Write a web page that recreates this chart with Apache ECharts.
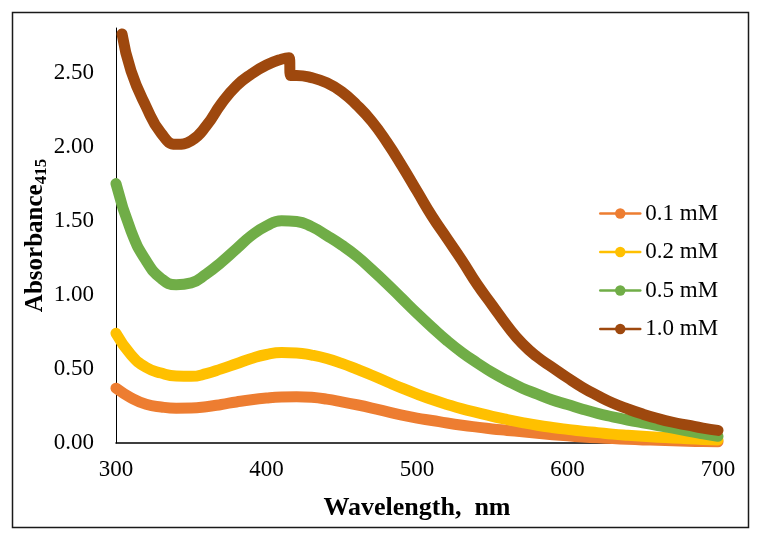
<!DOCTYPE html>
<html>
<head>
<meta charset="utf-8">
<script src="https://cdn.jsdelivr.net/npm/echarts@6/dist/echarts.min.js"></script>
<style>
	html, body { margin: 0; padding: 0; background: #fff; }
	#chart { width: 763px; height: 542px; }
</style>
</head>
<body>
<div id="chart"></div>
<script>
// legend names
var seriesNames = ['0.1 mM', '0.2 mM', '0.5 mM', '1.0 mM'];
var seriesColors = ['#ED7D31', '#FFC000', '#70AD47', '#9E480E'];

// wavelengths (nm) shared by the three lower curves
var wl = [300, 310, 320, 330, 340, 350, 360, 370, 380, 390, 400, 410, 420, 430, 440, 450, 460, 470, 480, 490,
	500, 510, 520, 530, 540, 550, 560, 570, 580, 590, 600, 610, 620, 630, 640, 650, 660, 670, 680, 690, 700];
var abs01 = [0.37, 0.305, 0.262, 0.243, 0.235, 0.236, 0.245, 0.26, 0.277, 0.292, 0.303, 0.31, 0.312, 0.308, 0.296, 0.278, 0.258, 0.236, 0.212, 0.188,
	0.168, 0.152, 0.135, 0.12, 0.107, 0.095, 0.085, 0.075, 0.065, 0.056, 0.048, 0.041, 0.035, 0.03, 0.025, 0.021, 0.018, 0.015, 0.012, 0.01, 0.008];
var abs02 = [0.74, 0.595, 0.51, 0.472, 0.452, 0.45, 0.468, 0.5, 0.535, 0.57, 0.597, 0.61, 0.608, 0.593, 0.57, 0.537, 0.498, 0.457, 0.413, 0.37,
	0.33, 0.293, 0.26, 0.23, 0.205, 0.18, 0.158, 0.138, 0.12, 0.105, 0.092, 0.08, 0.07, 0.06, 0.052, 0.045, 0.039, 0.034, 0.029, 0.024, 0.02];
var abs05 = [1.75, 1.43, 1.23, 1.11, 1.068, 1.08, 1.14, 1.22, 1.31, 1.40, 1.465, 1.50, 1.495, 1.46, 1.40, 1.335, 1.26, 1.17, 1.075, 0.975,
	0.875, 0.78, 0.69, 0.61, 0.54, 0.475, 0.42, 0.37, 0.33, 0.29, 0.26, 0.228, 0.20, 0.177, 0.155, 0.136, 0.118, 0.10, 0.08, 0.062, 0.045];

// 1.0 mM has its own wavelengths (step near 415 nm)
var wl10 = [304, 310, 320, 330, 340, 350, 360, 370, 380, 390, 400, 410, 415, 416, 420, 430, 440, 450, 460, 470,
	480, 490, 500, 510, 520, 530, 540, 550, 560, 570, 580, 590, 600, 610, 620, 630, 640, 650, 660, 670, 680, 690, 700];
var abs10 = [2.76, 2.51, 2.27, 2.09, 2.015, 2.04, 2.14, 2.29, 2.41, 2.49, 2.55, 2.59, 2.60, 2.48, 2.48, 2.465, 2.43, 2.37, 2.28, 2.17,
	2.03, 1.87, 1.70, 1.53, 1.38, 1.23, 1.07, 0.93, 0.79, 0.67, 0.58, 0.51, 0.44, 0.375, 0.32, 0.27, 0.23, 0.195, 0.165, 0.14, 0.12, 0.10, 0.085];

function pairs(xs, ys) {
	var out = [];
	for (var i = 0; i < xs.length; i++) {
		out.push([xs[i], ys[i]]);
	}
	return out;
}

var chart = echarts.init(document.getElementById('chart'));
var serif = '"Liberation Serif", "Times New Roman", serif';

var allData = [pairs(wl, abs01), pairs(wl, abs02), pairs(wl, abs05), pairs(wl10, abs10)];
var series = [];
allData.forEach(function(d, i) {
	series.push({
		name: seriesNames[i],
		type: 'line',
		data: d,
		symbol: 'circle',
		symbolSize: 12,
		showSymbol: false,
		smooth: 0.5,
		itemStyle: { color: seriesColors[i] },
		lineStyle: { color: seriesColors[i], width: 11, cap: 'round', join: 'round' },
		z: 2 + i
	});
});

var option = {
	animation: false,
	backgroundColor: '#fff',
	grid: { left: 116, right: 45, top: 28, bottom: 99 },
	legend: {
		orient: 'vertical',
		left: 594,
		top: 197,
		itemWidth: 40,
		itemHeight: 13,
		itemGap: 15.5,
		lineStyle: { width: 2.5 },
		textStyle: { fontFamily: serif, fontSize: 23, color: '#000' },
		data: seriesNames
	},
	xAxis: {
		type: 'value',
		min: 300,
		max: 700,
		interval: 100,
		name: 'Wavelength,  nm',
		nameLocation: 'middle',
		nameGap: 52,
		nameMoveOverlap: false,
		nameTextStyle: { fontFamily: serif, fontSize: 26, fontWeight: 'bold', color: '#000' },
		axisLine: { lineStyle: { color: '#000', width: 1.5 } },
		axisTick: { show: false },
		splitLine: { show: false },
		axisLabel: { fontFamily: serif, fontSize: 23, color: '#000', margin: 15 }
	},
	yAxis: {
		type: 'value',
		min: 0,
		max: 2.8,
		interval: 0.5,
		name: '{a|Absorbance}{b|415}',
		nameLocation: 'middle',
		nameGap: 66,
		nameMoveOverlap: false,
		nameTextStyle: {
			rich: {
				a: { fontFamily: serif, fontSize: 25, fontWeight: 'bold', color: '#000' },
				b: { fontFamily: serif, fontSize: 17, fontWeight: 'bold', color: '#000', padding: [12, 0, 0, 0] }
			}
		},
		axisLine: { show: true, lineStyle: { color: '#000', width: 1 } },
		axisTick: { show: false },
		splitLine: { show: false },
		axisLabel: {
			fontFamily: serif, fontSize: 23, color: '#000', margin: 22, showMaxLabel: false,
			formatter: function(v) { return v.toFixed(2); }
		}
	},
	graphic: [{
		type: 'rect',
		shape: { x: 12.5, y: 12.5, width: 736, height: 515 },
		style: { fill: null, stroke: '#1a1a1a', lineWidth: 1.5 },
		silent: true
	}],
	series: series
};
chart.setOption(option);
</script>
</body>
</html>
